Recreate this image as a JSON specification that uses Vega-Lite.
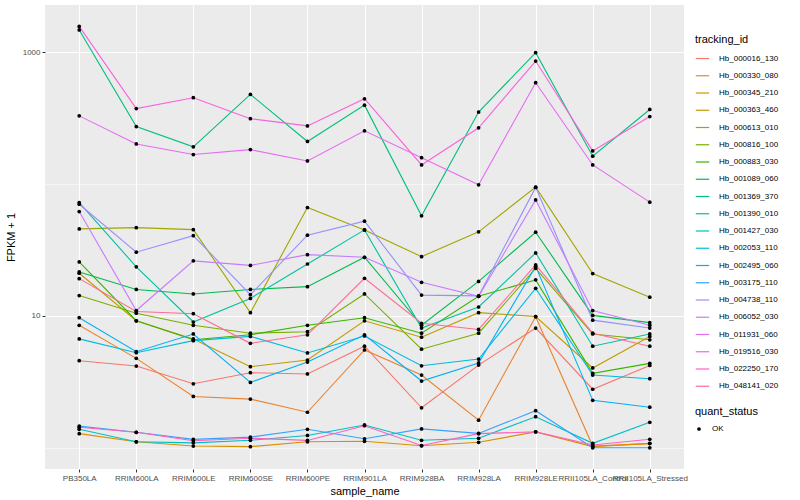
{
  "$schema": "https://vega.github.io/schema/vega-lite/v6.json",
  "autosize": {"type": "none"},
  "padding": {"left": 45, "top": 5, "right": 116, "bottom": 31},
  "width": 639,
  "height": 464,
  "background": "white",
  "config": {
    "view": {"fill": "#EBEBEB", "stroke": null},
    "font": "Liberation Sans"
  },
  "data": {"values": [
{"tracking_id":"Hb_000016_130","sample_name":"PB350LA","fpkm1":4.58,"quant_status":"OK"},
{"tracking_id":"Hb_000016_130","sample_name":"RRIM600LA","fpkm1":4.17,"quant_status":"OK"},
{"tracking_id":"Hb_000016_130","sample_name":"RRIM600LE","fpkm1":3.06,"quant_status":"OK"},
{"tracking_id":"Hb_000016_130","sample_name":"RRIM600SE","fpkm1":3.71,"quant_status":"OK"},
{"tracking_id":"Hb_000016_130","sample_name":"RRIM600PE","fpkm1":3.63,"quant_status":"OK"},
{"tracking_id":"Hb_000016_130","sample_name":"RRIM901LA","fpkm1":5.9,"quant_status":"OK"},
{"tracking_id":"Hb_000016_130","sample_name":"RRIM928BA","fpkm1":2.01,"quant_status":"OK"},
{"tracking_id":"Hb_000016_130","sample_name":"RRIM928LA","fpkm1":4.24,"quant_status":"OK"},
{"tracking_id":"Hb_000016_130","sample_name":"RRIM928LE","fpkm1":8.1,"quant_status":"OK"},
{"tracking_id":"Hb_000016_130","sample_name":"RRII105LA_Control","fpkm1":2.78,"quant_status":"OK"},
{"tracking_id":"Hb_000016_130","sample_name":"RRII105LA_Stressed","fpkm1":4.21,"quant_status":"OK"},
{"tracking_id":"Hb_000330_080","sample_name":"PB350LA","fpkm1":8.5,"quant_status":"OK"},
{"tracking_id":"Hb_000330_080","sample_name":"RRIM600LA","fpkm1":4.77,"quant_status":"OK"},
{"tracking_id":"Hb_000330_080","sample_name":"RRIM600LE","fpkm1":2.45,"quant_status":"OK"},
{"tracking_id":"Hb_000330_080","sample_name":"RRIM600SE","fpkm1":2.34,"quant_status":"OK"},
{"tracking_id":"Hb_000330_080","sample_name":"RRIM600PE","fpkm1":1.86,"quant_status":"OK"},
{"tracking_id":"Hb_000330_080","sample_name":"RRIM901LA","fpkm1":5.52,"quant_status":"OK"},
{"tracking_id":"Hb_000330_080","sample_name":"RRIM928BA","fpkm1":3.56,"quant_status":"OK"},
{"tracking_id":"Hb_000330_080","sample_name":"RRIM928LA","fpkm1":1.62,"quant_status":"OK"},
{"tracking_id":"Hb_000330_080","sample_name":"RRIM928LE","fpkm1":9.88,"quant_status":"OK"},
{"tracking_id":"Hb_000330_080","sample_name":"RRII105LA_Control","fpkm1":1.03,"quant_status":"OK"},
{"tracking_id":"Hb_000330_080","sample_name":"RRII105LA_Stressed","fpkm1":1.075,"quant_status":"OK"},
{"tracking_id":"Hb_000345_210","sample_name":"PB350LA","fpkm1":1.28,"quant_status":"OK"},
{"tracking_id":"Hb_000345_210","sample_name":"RRIM600LA","fpkm1":1.11,"quant_status":"OK"},
{"tracking_id":"Hb_000345_210","sample_name":"RRIM600LE","fpkm1":1.03,"quant_status":"OK"},
{"tracking_id":"Hb_000345_210","sample_name":"RRIM600SE","fpkm1":1.02,"quant_status":"OK"},
{"tracking_id":"Hb_000345_210","sample_name":"RRIM600PE","fpkm1":1.11,"quant_status":"OK"},
{"tracking_id":"Hb_000345_210","sample_name":"RRIM901LA","fpkm1":1.12,"quant_status":"OK"},
{"tracking_id":"Hb_000345_210","sample_name":"RRIM928BA","fpkm1":1.035,"quant_status":"OK"},
{"tracking_id":"Hb_000345_210","sample_name":"RRIM928LA","fpkm1":1.10,"quant_status":"OK"},
{"tracking_id":"Hb_000345_210","sample_name":"RRIM928LE","fpkm1":1.32,"quant_status":"OK"},
{"tracking_id":"Hb_000345_210","sample_name":"RRII105LA_Control","fpkm1":1.02,"quant_status":"OK"},
{"tracking_id":"Hb_000345_210","sample_name":"RRII105LA_Stressed","fpkm1":1.08,"quant_status":"OK"},
{"tracking_id":"Hb_000363_460","sample_name":"PB350LA","fpkm1":21.1,"quant_status":"OK"},
{"tracking_id":"Hb_000363_460","sample_name":"RRIM600LA","fpkm1":9.2,"quant_status":"OK"},
{"tracking_id":"Hb_000363_460","sample_name":"RRIM600LE","fpkm1":6.7,"quant_status":"OK"},
{"tracking_id":"Hb_000363_460","sample_name":"RRIM600SE","fpkm1":4.12,"quant_status":"OK"},
{"tracking_id":"Hb_000363_460","sample_name":"RRIM600PE","fpkm1":4.63,"quant_status":"OK"},
{"tracking_id":"Hb_000363_460","sample_name":"RRIM901LA","fpkm1":9.2,"quant_status":"OK"},
{"tracking_id":"Hb_000363_460","sample_name":"RRIM928BA","fpkm1":6.9,"quant_status":"OK"},
{"tracking_id":"Hb_000363_460","sample_name":"RRIM928LA","fpkm1":10.6,"quant_status":"OK"},
{"tracking_id":"Hb_000363_460","sample_name":"RRIM928LE","fpkm1":9.9,"quant_status":"OK"},
{"tracking_id":"Hb_000363_460","sample_name":"RRII105LA_Control","fpkm1":4.03,"quant_status":"OK"},
{"tracking_id":"Hb_000363_460","sample_name":"RRII105LA_Stressed","fpkm1":7.0,"quant_status":"OK"},
{"tracking_id":"Hb_000613_010","sample_name":"PB350LA","fpkm1":45.8,"quant_status":"OK"},
{"tracking_id":"Hb_000613_010","sample_name":"RRIM600LA","fpkm1":46.8,"quant_status":"OK"},
{"tracking_id":"Hb_000613_010","sample_name":"RRIM600LE","fpkm1":45.2,"quant_status":"OK"},
{"tracking_id":"Hb_000613_010","sample_name":"RRIM600SE","fpkm1":10.6,"quant_status":"OK"},
{"tracking_id":"Hb_000613_010","sample_name":"RRIM600PE","fpkm1":66.5,"quant_status":"OK"},
{"tracking_id":"Hb_000613_010","sample_name":"RRIM901LA","fpkm1":45.0,"quant_status":"OK"},
{"tracking_id":"Hb_000613_010","sample_name":"RRIM928BA","fpkm1":28.2,"quant_status":"OK"},
{"tracking_id":"Hb_000613_010","sample_name":"RRIM928LA","fpkm1":43.5,"quant_status":"OK"},
{"tracking_id":"Hb_000613_010","sample_name":"RRIM928LE","fpkm1":95.0,"quant_status":"OK"},
{"tracking_id":"Hb_000613_010","sample_name":"RRII105LA_Control","fpkm1":21.0,"quant_status":"OK"},
{"tracking_id":"Hb_000613_010","sample_name":"RRII105LA_Stressed","fpkm1":13.9,"quant_status":"OK"},
{"tracking_id":"Hb_000816_100","sample_name":"PB350LA","fpkm1":14.3,"quant_status":"OK"},
{"tracking_id":"Hb_000816_100","sample_name":"RRIM600LA","fpkm1":10.5,"quant_status":"OK"},
{"tracking_id":"Hb_000816_100","sample_name":"RRIM600LE","fpkm1":8.5,"quant_status":"OK"},
{"tracking_id":"Hb_000816_100","sample_name":"RRIM600SE","fpkm1":7.4,"quant_status":"OK"},
{"tracking_id":"Hb_000816_100","sample_name":"RRIM600PE","fpkm1":7.6,"quant_status":"OK"},
{"tracking_id":"Hb_000816_100","sample_name":"RRIM901LA","fpkm1":14.7,"quant_status":"OK"},
{"tracking_id":"Hb_000816_100","sample_name":"RRIM928BA","fpkm1":5.6,"quant_status":"OK"},
{"tracking_id":"Hb_000816_100","sample_name":"RRIM928LA","fpkm1":7.4,"quant_status":"OK"},
{"tracking_id":"Hb_000816_100","sample_name":"RRIM928LE","fpkm1":23.0,"quant_status":"OK"},
{"tracking_id":"Hb_000816_100","sample_name":"RRII105LA_Control","fpkm1":7.3,"quant_status":"OK"},
{"tracking_id":"Hb_000816_100","sample_name":"RRII105LA_Stressed","fpkm1":6.6,"quant_status":"OK"},
{"tracking_id":"Hb_000883_030","sample_name":"PB350LA","fpkm1":25.7,"quant_status":"OK"},
{"tracking_id":"Hb_000883_030","sample_name":"RRIM600LA","fpkm1":9.2,"quant_status":"OK"},
{"tracking_id":"Hb_000883_030","sample_name":"RRIM600LE","fpkm1":6.6,"quant_status":"OK"},
{"tracking_id":"Hb_000883_030","sample_name":"RRIM600SE","fpkm1":7.2,"quant_status":"OK"},
{"tracking_id":"Hb_000883_030","sample_name":"RRIM600PE","fpkm1":8.5,"quant_status":"OK"},
{"tracking_id":"Hb_000883_030","sample_name":"RRIM901LA","fpkm1":9.7,"quant_status":"OK"},
{"tracking_id":"Hb_000883_030","sample_name":"RRIM928BA","fpkm1":7.4,"quant_status":"OK"},
{"tracking_id":"Hb_000883_030","sample_name":"RRIM928LA","fpkm1":14.1,"quant_status":"OK"},
{"tracking_id":"Hb_000883_030","sample_name":"RRIM928LE","fpkm1":18.8,"quant_status":"OK"},
{"tracking_id":"Hb_000883_030","sample_name":"RRII105LA_Control","fpkm1":3.67,"quant_status":"OK"},
{"tracking_id":"Hb_000883_030","sample_name":"RRII105LA_Stressed","fpkm1":4.37,"quant_status":"OK"},
{"tracking_id":"Hb_001089_060","sample_name":"PB350LA","fpkm1":21.6,"quant_status":"OK"},
{"tracking_id":"Hb_001089_060","sample_name":"RRIM600LA","fpkm1":15.9,"quant_status":"OK"},
{"tracking_id":"Hb_001089_060","sample_name":"RRIM600LE","fpkm1":14.7,"quant_status":"OK"},
{"tracking_id":"Hb_001089_060","sample_name":"RRIM600SE","fpkm1":15.9,"quant_status":"OK"},
{"tracking_id":"Hb_001089_060","sample_name":"RRIM600PE","fpkm1":16.7,"quant_status":"OK"},
{"tracking_id":"Hb_001089_060","sample_name":"RRIM901LA","fpkm1":27.9,"quant_status":"OK"},
{"tracking_id":"Hb_001089_060","sample_name":"RRIM928BA","fpkm1":8.5,"quant_status":"OK"},
{"tracking_id":"Hb_001089_060","sample_name":"RRIM928LA","fpkm1":18.3,"quant_status":"OK"},
{"tracking_id":"Hb_001089_060","sample_name":"RRIM928LE","fpkm1":43.2,"quant_status":"OK"},
{"tracking_id":"Hb_001089_060","sample_name":"RRII105LA_Control","fpkm1":10.1,"quant_status":"OK"},
{"tracking_id":"Hb_001089_060","sample_name":"RRII105LA_Stressed","fpkm1":8.9,"quant_status":"OK"},
{"tracking_id":"Hb_001369_370","sample_name":"PB350LA","fpkm1":1480,"quant_status":"OK"},
{"tracking_id":"Hb_001369_370","sample_name":"RRIM600LA","fpkm1":274,"quant_status":"OK"},
{"tracking_id":"Hb_001369_370","sample_name":"RRIM600LE","fpkm1":192,"quant_status":"OK"},
{"tracking_id":"Hb_001369_370","sample_name":"RRIM600SE","fpkm1":480,"quant_status":"OK"},
{"tracking_id":"Hb_001369_370","sample_name":"RRIM600PE","fpkm1":211,"quant_status":"OK"},
{"tracking_id":"Hb_001369_370","sample_name":"RRIM901LA","fpkm1":398,"quant_status":"OK"},
{"tracking_id":"Hb_001369_370","sample_name":"RRIM928BA","fpkm1":57.5,"quant_status":"OK"},
{"tracking_id":"Hb_001369_370","sample_name":"RRIM928LA","fpkm1":353,"quant_status":"OK"},
{"tracking_id":"Hb_001369_370","sample_name":"RRIM928LE","fpkm1":995,"quant_status":"OK"},
{"tracking_id":"Hb_001369_370","sample_name":"RRII105LA_Control","fpkm1":163,"quant_status":"OK"},
{"tracking_id":"Hb_001369_370","sample_name":"RRII105LA_Stressed","fpkm1":369,"quant_status":"OK"},
{"tracking_id":"Hb_001390_010","sample_name":"PB350LA","fpkm1":72.5,"quant_status":"OK"},
{"tracking_id":"Hb_001390_010","sample_name":"RRIM600LA","fpkm1":23.6,"quant_status":"OK"},
{"tracking_id":"Hb_001390_010","sample_name":"RRIM600LE","fpkm1":9.0,"quant_status":"OK"},
{"tracking_id":"Hb_001390_010","sample_name":"RRIM600SE","fpkm1":13.6,"quant_status":"OK"},
{"tracking_id":"Hb_001390_010","sample_name":"RRIM600PE","fpkm1":24.8,"quant_status":"OK"},
{"tracking_id":"Hb_001390_010","sample_name":"RRIM901LA","fpkm1":45.0,"quant_status":"OK"},
{"tracking_id":"Hb_001390_010","sample_name":"RRIM928BA","fpkm1":8.1,"quant_status":"OK"},
{"tracking_id":"Hb_001390_010","sample_name":"RRIM928LA","fpkm1":11.7,"quant_status":"OK"},
{"tracking_id":"Hb_001390_010","sample_name":"RRIM928LE","fpkm1":30.1,"quant_status":"OK"},
{"tracking_id":"Hb_001390_010","sample_name":"RRII105LA_Control","fpkm1":5.9,"quant_status":"OK"},
{"tracking_id":"Hb_001390_010","sample_name":"RRII105LA_Stressed","fpkm1":7.3,"quant_status":"OK"},
{"tracking_id":"Hb_001427_030","sample_name":"PB350LA","fpkm1":1.38,"quant_status":"OK"},
{"tracking_id":"Hb_001427_030","sample_name":"RRIM600LA","fpkm1":1.11,"quant_status":"OK"},
{"tracking_id":"Hb_001427_030","sample_name":"RRIM600LE","fpkm1":1.09,"quant_status":"OK"},
{"tracking_id":"Hb_001427_030","sample_name":"RRIM600SE","fpkm1":1.14,"quant_status":"OK"},
{"tracking_id":"Hb_001427_030","sample_name":"RRIM600PE","fpkm1":1.24,"quant_status":"OK"},
{"tracking_id":"Hb_001427_030","sample_name":"RRIM901LA","fpkm1":1.49,"quant_status":"OK"},
{"tracking_id":"Hb_001427_030","sample_name":"RRIM928BA","fpkm1":1.14,"quant_status":"OK"},
{"tracking_id":"Hb_001427_030","sample_name":"RRIM928LA","fpkm1":1.18,"quant_status":"OK"},
{"tracking_id":"Hb_001427_030","sample_name":"RRIM928LE","fpkm1":1.72,"quant_status":"OK"},
{"tracking_id":"Hb_001427_030","sample_name":"RRII105LA_Control","fpkm1":1.08,"quant_status":"OK"},
{"tracking_id":"Hb_001427_030","sample_name":"RRII105LA_Stressed","fpkm1":1.56,"quant_status":"OK"},
{"tracking_id":"Hb_002053_110","sample_name":"PB350LA","fpkm1":6.7,"quant_status":"OK"},
{"tracking_id":"Hb_002053_110","sample_name":"RRIM600LA","fpkm1":5.26,"quant_status":"OK"},
{"tracking_id":"Hb_002053_110","sample_name":"RRIM600LE","fpkm1":6.5,"quant_status":"OK"},
{"tracking_id":"Hb_002053_110","sample_name":"RRIM600SE","fpkm1":7.0,"quant_status":"OK"},
{"tracking_id":"Hb_002053_110","sample_name":"RRIM600PE","fpkm1":5.24,"quant_status":"OK"},
{"tracking_id":"Hb_002053_110","sample_name":"RRIM901LA","fpkm1":7.05,"quant_status":"OK"},
{"tracking_id":"Hb_002053_110","sample_name":"RRIM928BA","fpkm1":4.19,"quant_status":"OK"},
{"tracking_id":"Hb_002053_110","sample_name":"RRIM928LA","fpkm1":4.71,"quant_status":"OK"},
{"tracking_id":"Hb_002053_110","sample_name":"RRIM928LE","fpkm1":16.2,"quant_status":"OK"},
{"tracking_id":"Hb_002053_110","sample_name":"RRII105LA_Control","fpkm1":3.56,"quant_status":"OK"},
{"tracking_id":"Hb_002053_110","sample_name":"RRII105LA_Stressed","fpkm1":3.34,"quant_status":"OK"},
{"tracking_id":"Hb_002495_060","sample_name":"PB350LA","fpkm1":9.7,"quant_status":"OK"},
{"tracking_id":"Hb_002495_060","sample_name":"RRIM600LA","fpkm1":5.36,"quant_status":"OK"},
{"tracking_id":"Hb_002495_060","sample_name":"RRIM600LE","fpkm1":7.3,"quant_status":"OK"},
{"tracking_id":"Hb_002495_060","sample_name":"RRIM600SE","fpkm1":3.13,"quant_status":"OK"},
{"tracking_id":"Hb_002495_060","sample_name":"RRIM600PE","fpkm1":4.47,"quant_status":"OK"},
{"tracking_id":"Hb_002495_060","sample_name":"RRIM901LA","fpkm1":7.2,"quant_status":"OK"},
{"tracking_id":"Hb_002495_060","sample_name":"RRIM928BA","fpkm1":3.21,"quant_status":"OK"},
{"tracking_id":"Hb_002495_060","sample_name":"RRIM928LA","fpkm1":4.40,"quant_status":"OK"},
{"tracking_id":"Hb_002495_060","sample_name":"RRIM928LE","fpkm1":23.8,"quant_status":"OK"},
{"tracking_id":"Hb_002495_060","sample_name":"RRII105LA_Control","fpkm1":2.29,"quant_status":"OK"},
{"tracking_id":"Hb_002495_060","sample_name":"RRII105LA_Stressed","fpkm1":2.03,"quant_status":"OK"},
{"tracking_id":"Hb_003175_110","sample_name":"PB350LA","fpkm1":1.46,"quant_status":"OK"},
{"tracking_id":"Hb_003175_110","sample_name":"RRIM600LA","fpkm1":1.31,"quant_status":"OK"},
{"tracking_id":"Hb_003175_110","sample_name":"RRIM600LE","fpkm1":1.157,"quant_status":"OK"},
{"tracking_id":"Hb_003175_110","sample_name":"RRIM600SE","fpkm1":1.205,"quant_status":"OK"},
{"tracking_id":"Hb_003175_110","sample_name":"RRIM600PE","fpkm1":1.38,"quant_status":"OK"},
{"tracking_id":"Hb_003175_110","sample_name":"RRIM901LA","fpkm1":1.17,"quant_status":"OK"},
{"tracking_id":"Hb_003175_110","sample_name":"RRIM928BA","fpkm1":1.39,"quant_status":"OK"},
{"tracking_id":"Hb_003175_110","sample_name":"RRIM928LA","fpkm1":1.285,"quant_status":"OK"},
{"tracking_id":"Hb_003175_110","sample_name":"RRIM928LE","fpkm1":1.91,"quant_status":"OK"},
{"tracking_id":"Hb_003175_110","sample_name":"RRII105LA_Control","fpkm1":1.0,"quant_status":"OK"},
{"tracking_id":"Hb_003175_110","sample_name":"RRII105LA_Stressed","fpkm1":1.0,"quant_status":"OK"},
{"tracking_id":"Hb_004738_110","sample_name":"PB350LA","fpkm1":70.5,"quant_status":"OK"},
{"tracking_id":"Hb_004738_110","sample_name":"RRIM600LA","fpkm1":30.5,"quant_status":"OK"},
{"tracking_id":"Hb_004738_110","sample_name":"RRIM600LE","fpkm1":40.7,"quant_status":"OK"},
{"tracking_id":"Hb_004738_110","sample_name":"RRIM600SE","fpkm1":14.5,"quant_status":"OK"},
{"tracking_id":"Hb_004738_110","sample_name":"RRIM600PE","fpkm1":41.0,"quant_status":"OK"},
{"tracking_id":"Hb_004738_110","sample_name":"RRIM901LA","fpkm1":52.4,"quant_status":"OK"},
{"tracking_id":"Hb_004738_110","sample_name":"RRIM928BA","fpkm1":14.4,"quant_status":"OK"},
{"tracking_id":"Hb_004738_110","sample_name":"RRIM928LA","fpkm1":14.2,"quant_status":"OK"},
{"tracking_id":"Hb_004738_110","sample_name":"RRIM928LE","fpkm1":94.6,"quant_status":"OK"},
{"tracking_id":"Hb_004738_110","sample_name":"RRII105LA_Control","fpkm1":9.3,"quant_status":"OK"},
{"tracking_id":"Hb_004738_110","sample_name":"RRII105LA_Stressed","fpkm1":8.1,"quant_status":"OK"},
{"tracking_id":"Hb_006052_030","sample_name":"PB350LA","fpkm1":62.0,"quant_status":"OK"},
{"tracking_id":"Hb_006052_030","sample_name":"RRIM600LA","fpkm1":11.0,"quant_status":"OK"},
{"tracking_id":"Hb_006052_030","sample_name":"RRIM600LE","fpkm1":26.2,"quant_status":"OK"},
{"tracking_id":"Hb_006052_030","sample_name":"RRIM600SE","fpkm1":24.2,"quant_status":"OK"},
{"tracking_id":"Hb_006052_030","sample_name":"RRIM600PE","fpkm1":29.2,"quant_status":"OK"},
{"tracking_id":"Hb_006052_030","sample_name":"RRIM901LA","fpkm1":27.9,"quant_status":"OK"},
{"tracking_id":"Hb_006052_030","sample_name":"RRIM928BA","fpkm1":18.0,"quant_status":"OK"},
{"tracking_id":"Hb_006052_030","sample_name":"RRIM928LA","fpkm1":14.1,"quant_status":"OK"},
{"tracking_id":"Hb_006052_030","sample_name":"RRIM928LE","fpkm1":76.0,"quant_status":"OK"},
{"tracking_id":"Hb_006052_030","sample_name":"RRII105LA_Control","fpkm1":11.0,"quant_status":"OK"},
{"tracking_id":"Hb_006052_030","sample_name":"RRII105LA_Stressed","fpkm1":8.5,"quant_status":"OK"},
{"tracking_id":"Hb_011931_060","sample_name":"PB350LA","fpkm1":330,"quant_status":"OK"},
{"tracking_id":"Hb_011931_060","sample_name":"RRIM600LA","fpkm1":202,"quant_status":"OK"},
{"tracking_id":"Hb_011931_060","sample_name":"RRIM600LE","fpkm1":168,"quant_status":"OK"},
{"tracking_id":"Hb_011931_060","sample_name":"RRIM600SE","fpkm1":183,"quant_status":"OK"},
{"tracking_id":"Hb_011931_060","sample_name":"RRIM600PE","fpkm1":150,"quant_status":"OK"},
{"tracking_id":"Hb_011931_060","sample_name":"RRIM901LA","fpkm1":254,"quant_status":"OK"},
{"tracking_id":"Hb_011931_060","sample_name":"RRIM928BA","fpkm1":159,"quant_status":"OK"},
{"tracking_id":"Hb_011931_060","sample_name":"RRIM928LA","fpkm1":98.9,"quant_status":"OK"},
{"tracking_id":"Hb_011931_060","sample_name":"RRIM928LE","fpkm1":589,"quant_status":"OK"},
{"tracking_id":"Hb_011931_060","sample_name":"RRII105LA_Control","fpkm1":140,"quant_status":"OK"},
{"tracking_id":"Hb_011931_060","sample_name":"RRII105LA_Stressed","fpkm1":73.1,"quant_status":"OK"},
{"tracking_id":"Hb_019516_030","sample_name":"PB350LA","fpkm1":1576,"quant_status":"OK"},
{"tracking_id":"Hb_019516_030","sample_name":"RRIM600LA","fpkm1":375,"quant_status":"OK"},
{"tracking_id":"Hb_019516_030","sample_name":"RRIM600LE","fpkm1":453,"quant_status":"OK"},
{"tracking_id":"Hb_019516_030","sample_name":"RRIM600SE","fpkm1":314,"quant_status":"OK"},
{"tracking_id":"Hb_019516_030","sample_name":"RRIM600PE","fpkm1":277,"quant_status":"OK"},
{"tracking_id":"Hb_019516_030","sample_name":"RRIM901LA","fpkm1":445,"quant_status":"OK"},
{"tracking_id":"Hb_019516_030","sample_name":"RRIM928BA","fpkm1":140,"quant_status":"OK"},
{"tracking_id":"Hb_019516_030","sample_name":"RRIM928LA","fpkm1":268,"quant_status":"OK"},
{"tracking_id":"Hb_019516_030","sample_name":"RRIM928LE","fpkm1":860,"quant_status":"OK"},
{"tracking_id":"Hb_019516_030","sample_name":"RRII105LA_Control","fpkm1":179,"quant_status":"OK"},
{"tracking_id":"Hb_019516_030","sample_name":"RRII105LA_Stressed","fpkm1":326,"quant_status":"OK"},
{"tracking_id":"Hb_022250_170","sample_name":"PB350LA","fpkm1":1.43,"quant_status":"OK"},
{"tracking_id":"Hb_022250_170","sample_name":"RRIM600LA","fpkm1":1.31,"quant_status":"OK"},
{"tracking_id":"Hb_022250_170","sample_name":"RRIM600LE","fpkm1":1.13,"quant_status":"OK"},
{"tracking_id":"Hb_022250_170","sample_name":"RRIM600SE","fpkm1":1.18,"quant_status":"OK"},
{"tracking_id":"Hb_022250_170","sample_name":"RRIM600PE","fpkm1":1.137,"quant_status":"OK"},
{"tracking_id":"Hb_022250_170","sample_name":"RRIM901LA","fpkm1":1.47,"quant_status":"OK"},
{"tracking_id":"Hb_022250_170","sample_name":"RRIM928BA","fpkm1":1.04,"quant_status":"OK"},
{"tracking_id":"Hb_022250_170","sample_name":"RRIM928LA","fpkm1":1.28,"quant_status":"OK"},
{"tracking_id":"Hb_022250_170","sample_name":"RRIM928LE","fpkm1":1.32,"quant_status":"OK"},
{"tracking_id":"Hb_022250_170","sample_name":"RRII105LA_Control","fpkm1":1.05,"quant_status":"OK"},
{"tracking_id":"Hb_022250_170","sample_name":"RRII105LA_Stressed","fpkm1":1.16,"quant_status":"OK"},
{"tracking_id":"Hb_048141_020","sample_name":"PB350LA","fpkm1":19.2,"quant_status":"OK"},
{"tracking_id":"Hb_048141_020","sample_name":"RRIM600LA","fpkm1":10.8,"quant_status":"OK"},
{"tracking_id":"Hb_048141_020","sample_name":"RRIM600LE","fpkm1":10.4,"quant_status":"OK"},
{"tracking_id":"Hb_048141_020","sample_name":"RRIM600SE","fpkm1":6.2,"quant_status":"OK"},
{"tracking_id":"Hb_048141_020","sample_name":"RRIM600PE","fpkm1":7.2,"quant_status":"OK"},
{"tracking_id":"Hb_048141_020","sample_name":"RRIM901LA","fpkm1":19.3,"quant_status":"OK"},
{"tracking_id":"Hb_048141_020","sample_name":"RRIM928BA","fpkm1":8.8,"quant_status":"OK"},
{"tracking_id":"Hb_048141_020","sample_name":"RRIM928LA","fpkm1":7.9,"quant_status":"OK"},
{"tracking_id":"Hb_048141_020","sample_name":"RRIM928LE","fpkm1":24.4,"quant_status":"OK"},
{"tracking_id":"Hb_048141_020","sample_name":"RRII105LA_Control","fpkm1":7.4,"quant_status":"OK"},
{"tracking_id":"Hb_048141_020","sample_name":"RRII105LA_Stressed","fpkm1":5.9,"quant_status":"OK"}
  ]},
  "encoding": {
    "x": {
      "field": "sample_name", "type": "nominal", "sort": null,
      "scale": {"type": "point", "padding": 0.6},
      "axis": {
        "title": "sample_name", "titleFontSize": 11, "titleFontWeight": "normal", "titleColor": "#000000", "titlePadding": 3,
        "labelFontSize": 8, "labelColor": "#4D4D4D", "labelAngle": 0, "labelOverlap": false, "labelLimit": 0, "labelPadding": 2,
        "tickColor": "#333333", "tickSize": 3, "domain": false,
        "grid": true, "gridColor": "#FFFFFF", "gridWidth": 1.1
      }
    },
    "y": {
      "field": "fpkm1", "type": "quantitative",
      "scale": {"type": "log", "domain": [0.69, 2290], "nice": false, "zero": false},
      "axis": {
        "title": "FPKM + 1", "titleFontSize": 11, "titleFontWeight": "normal", "titleColor": "#000000", "titlePadding": 6,
        "values": [1, 10, 100, 1000],
        "labelExpr": "datum.value == 10 || datum.value == 1000 ? format(datum.value, 'd') : ''",
        "labelFontSize": 8, "labelColor": "#4D4D4D", "labelPadding": 2,
        "tickColor": "#333333", "tickSize": 3,
        "tickOpacity": {"condition": {"test": "datum.value == 10 || datum.value == 1000", "value": 1}, "value": 0},
        "domain": false,
        "grid": true, "gridColor": "#FFFFFF",
        "gridWidth": {"condition": {"test": "datum.value == 10 || datum.value == 1000", "value": 1.1}, "value": 0.55}
      }
    }
  },
  "layer": [
    {
      "mark": {"type": "line", "strokeWidth": 1.1},
      "encoding": {
        "color": {
          "field": "tracking_id", "type": "nominal",
          "scale": {
            "domain": ["Hb_000016_130","Hb_000330_080","Hb_000345_210","Hb_000363_460","Hb_000613_010","Hb_000816_100","Hb_000883_030","Hb_001089_060","Hb_001369_370","Hb_001390_010","Hb_001427_030","Hb_002053_110","Hb_002495_060","Hb_003175_110","Hb_004738_110","Hb_006052_030","Hb_011931_060","Hb_019516_030","Hb_022250_170","Hb_048141_020"],
            "range": ["#F8766D","#EA8331","#D89000","#C09B00","#A3A500","#7CAE00","#39B600","#00BB4E","#00BF7D","#00C1A3","#00BFC4","#00BAE0","#00B0F6","#35A2FF","#9590FF","#C77CFF","#E76BF3","#FA62DB","#FF62BC","#FF6C91"]
          },
          "legend": {
            "orient": "none", "legendX": 650, "legendY": 29,
            "title": "tracking_id", "titleFontSize": 11, "titleFontWeight": "normal", "titleColor": "#000000", "titlePadding": 6,
            "labelFontSize": 8, "labelColor": "#000000", "labelOffset": 9,
            "symbolType": "stroke", "symbolStrokeWidth": 1.2, "symbolSize": 180, "rowPadding": 5.25
          }
        },
        "detail": {"field": "tracking_id"}
      }
    },
    {
      "mark": {"type": "point", "filled": true, "color": "#000000", "size": 14, "opacity": 1},
      "encoding": {
        "shape": {
          "field": "quant_status", "type": "nominal",
          "scale": {"range": ["circle"]},
          "legend": {
            "orient": "none", "legendX": 650, "legendY": 401,
            "title": "quant_status", "titleFontSize": 11, "titleFontWeight": "normal", "titleColor": "#000000", "titlePadding": 8,
            "labelFontSize": 8, "labelColor": "#000000", "labelOffset": 9,
            "symbolFillColor": "#000000", "symbolStrokeColor": "#000000", "symbolSize": 14, "symbolOpacity": 1
          }
        }
      }
    }
  ]
}
